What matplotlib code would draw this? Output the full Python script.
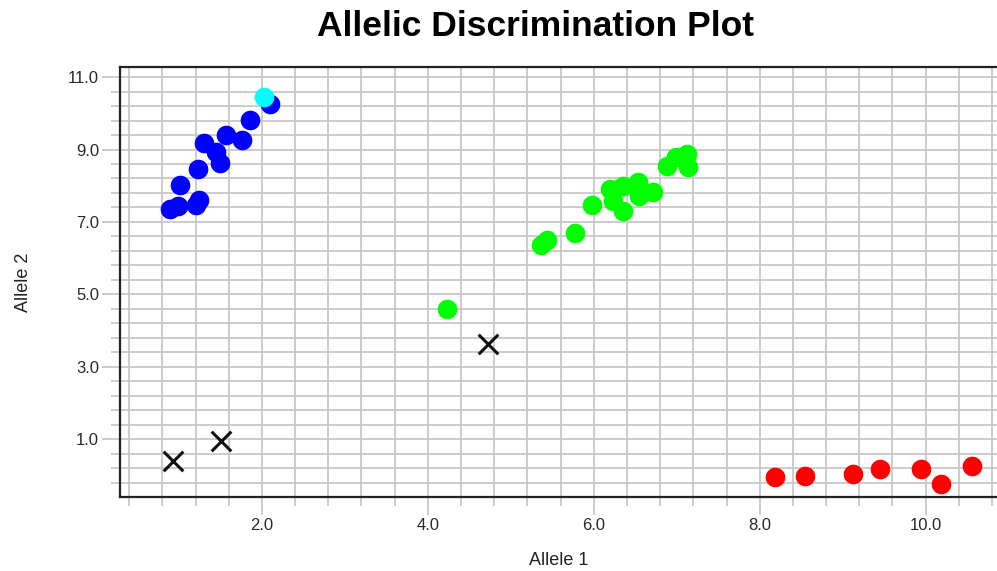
import matplotlib
matplotlib.use("Agg")
import matplotlib.pyplot as plt
import numpy as np

plt.rcParams["font.family"] = ["Liberation Sans", "DejaVu Sans"]

# allele 2 homozygous (blue)
blue_x = [0.89, 0.99, 1.20, 1.24, 1.01, 1.23, 1.30, 1.45, 1.49, 1.57, 1.76, 1.86, 2.10]
blue_y = [7.36, 7.43, 7.48, 7.60, 8.01, 8.47, 9.17, 8.93, 8.62, 9.39, 9.25, 9.82, 10.25]
# selected point (cyan)
cyan_x = [2.03]
cyan_y = [10.44]
# heterozygous (green)
green_x = [4.23, 5.36, 5.44, 5.77, 5.98, 6.20, 6.35, 6.23, 6.35, 6.53, 6.55, 6.71, 6.88, 6.99, 7.12, 7.14]
green_y = [4.59, 6.35, 6.51, 6.70, 7.48, 7.90, 7.99, 7.57, 7.30, 8.10, 7.71, 7.82, 8.54, 8.80, 8.87, 8.53]
# allele 1 homozygous (red)
red_x = [8.18, 8.54, 9.12, 9.45, 9.94, 10.18, 10.56]
red_y = [-0.06, -0.02, 0.03, 0.16, 0.16, -0.23, 0.27]
# undetermined (black x)
undet_x = [0.93, 1.51, 4.72]
undet_y = [0.40, 0.95, 3.63]

x_labels = ["2.0", "4.0", "6.0", "8.0", "10.0"]
y_labels = ["1.0", "3.0", "5.0", "7.0", "9.0", "11.0"]

fig = plt.figure(figsize=(9.97, 5.71), dpi=100)
ax = fig.add_axes([0.1204, 0.1296, 0.8796, 0.7531])
ax.set_xlim(0.29, 10.86)
ax.set_ylim(-0.6, 11.28)

grid_c = "#c8c8c8"
xminor = np.arange(0.4, 10.9, 0.4)
yminor = np.arange(-0.2, 11.2, 0.4)
for v in xminor:
    ax.axvline(v, color=grid_c, lw=1.3, zorder=0)
for v in yminor:
    ax.axhline(v, color=grid_c, lw=1.3, zorder=0)

ax.set_xticks([2.0, 4.0, 6.0, 8.0, 10.0])
ax.set_xticklabels(x_labels)
ax.set_yticks([1.0, 3.0, 5.0, 7.0, 9.0, 11.0])
ax.set_yticklabels(y_labels)
ax.set_xticks(xminor, minor=True)
ax.set_yticks(yminor, minor=True)
ax.tick_params(which="major", length=13, width=1.3, color=grid_c,
               labelsize=12, labelcolor="#2a2a2a", pad=2)
ax.tick_params(which="minor", length=6.5, width=1.3, color=grid_c)

for s in ["left", "bottom", "top"]:
    ax.spines[s].set_color("#222222")
    ax.spines[s].set_linewidth(1.6)
ax.spines["right"].set_visible(False)

ms = 200
ax.scatter(blue_x, blue_y, s=ms, color="#0000ff", zorder=3, linewidths=0)
ax.scatter(green_x, green_y, s=ms, color="#00ff00", zorder=3, linewidths=0)
ax.scatter(red_x, red_y, s=ms, color="#ff0000", zorder=3, linewidths=0)
ax.scatter(cyan_x, cyan_y, s=ms, color="#00ffff", zorder=4, linewidths=0)
ax.scatter(undet_x, undet_y, s=200, marker="x", color="#111111", linewidths=2.2, zorder=3)

ax.set_xlabel("Allele 1", fontsize=13, color="#222222", labelpad=14)
ax.set_ylabel("Allele 2", fontsize=13, color="#222222", labelpad=26)
fig.text(0.537, 1 - 36 / 571, "Allelic Discrimination Plot", ha="center", va="baseline",
         fontsize=25.5, fontweight="bold")

fig.savefig("out.png", dpi=100)
